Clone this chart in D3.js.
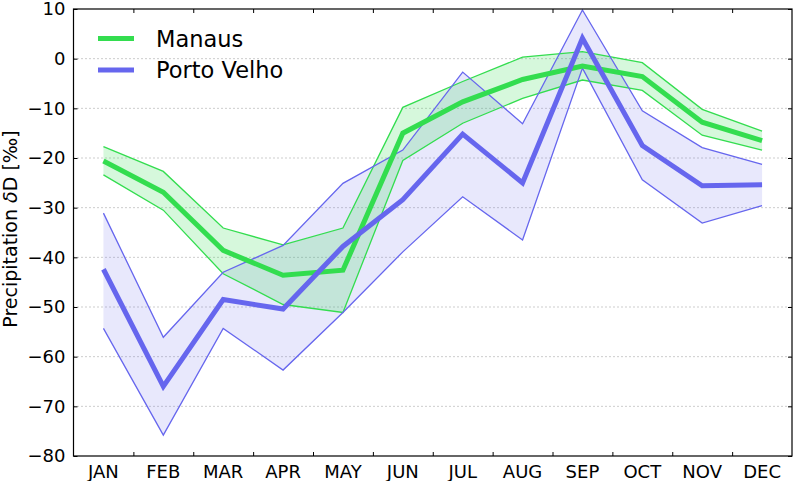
<!DOCTYPE html>
<html>
<head>
<meta charset="utf-8">
<script src="https://cdn.jsdelivr.net/npm/d3@7"></script>
<style>
  html, body { margin: 0; padding: 0; background: #fff; }
  svg { display: block; font-family: "DejaVu Sans", sans-serif; }
</style>
</head>
<body>
<svg id="chart" width="796" height="481"></svg>
<script>
const months = ["JAN","FEB","MAR","APR","MAY","JUN","JUL","AUG","SEP","OCT","NOV","DEC"];
const manausMean  = [-20.6, -26.9, -38.6, -43.6, -42.6, -15.0, -8.7, -4.2, -1.5, -3.6, -12.8, -16.5];
const manausUpper = [-17.7, -22.7, -34.1, -37.5, -34.1, -9.8, -4.6, 0.3, 1.4, -0.8, -10.2, -14.6];
const manausLower = [-23.4, -30.5, -43.3, -49.5, -51.1, -20.5, -13.0, -8.0, -4.3, -6.4, -15.4, -18.4];
const pvMean  = [-42.4, -66.0, -48.5, -50.4, -37.8, -28.4, -15.2, -25.0, 4.1, -17.5, -25.6, -25.4];
const pvUpper = [-31.1, -56.1, -43.0, -37.6, -25.1, -18.4, -2.7, -13.1, 9.8, -10.5, -17.9, -21.3];
const pvLower = [-54.3, -75.8, -54.3, -62.7, -51.1, -38.9, -27.8, -36.5, -1.9, -24.4, -33.1, -29.6];
const yTicks = [10, 0, -10, -20, -30, -40, -50, -60, -70, -80];
const gridVals = [0, -10, -20, -30, -40, -50, -60, -70];
const seriesNames = ["Manaus", "Porto Velho"];

const svg = d3.select("#chart");
const L = 73.5, R = 792, T = 9, B = 456;

const x = d3.scaleLinear().domain([0, 12]).range([L, R]);
const y = d3.scaleLinear().domain([-80, 10]).range([B, T]);
const xm = i => x(i + 0.5);

const green = "#33dd4f", greenFill = "rgba(51,221,79,0.2)";
const blue = "#6666ee", blueFill = "rgba(102,102,238,0.15)";

// gridlines
svg.append("g").selectAll("line").data(gridVals).join("line")
  .attr("x1", L).attr("x2", R)
  .attr("y1", d => y(d)).attr("y2", d => y(d))
  .attr("stroke", "#9a9a9a").attr("stroke-width", 1)
  .attr("stroke-dasharray", "1,3");

const area = (lo, hi) => d3.area()
  .x((d, i) => xm(i)).y0((d, i) => y(lo[i])).y1((d, i) => y(hi[i]));
const line = d3.line().x((d, i) => xm(i)).y(d => y(d));

svg.append("path").datum(pvMean).attr("d", area(pvLower, pvUpper))
  .attr("fill", blueFill).attr("stroke", "none");
svg.append("path").datum(manausMean).attr("d", area(manausLower, manausUpper))
  .attr("fill", greenFill).attr("stroke", "none");

const edge = (arr, c) => svg.append("path").datum(arr).attr("d", line)
  .attr("fill", "none").attr("stroke", c).attr("stroke-width", 1.3);
edge(manausUpper, green); edge(manausLower, green);
edge(pvUpper, blue); edge(pvLower, blue);

const mainLine = (arr, c) => svg.append("path").datum(arr).attr("d", line)
  .attr("fill", "none").attr("stroke", c).attr("stroke-width", 5)
  .attr("stroke-linejoin", "miter");
mainLine(manausMean, green);
mainLine(pvMean, blue);

// frame
svg.append("rect").attr("x", L).attr("y", T).attr("width", R - L).attr("height", B - T)
  .attr("fill", "none").attr("stroke", "#000").attr("stroke-width", 1.2);

const xTickVals = d3.range(1, 12);
svg.append("g").attr("transform", `translate(0,${B})`)
  .call(d3.axisBottom(x).tickValues(xTickVals).tickSize(-4).tickFormat(""))
  .call(g => g.select(".domain").remove());
svg.append("g").attr("transform", `translate(0,${T})`)
  .call(d3.axisTop(x).tickValues(xTickVals).tickSize(-4).tickFormat(""))
  .call(g => g.select(".domain").remove());
svg.append("g").attr("transform", `translate(${L},0)`)
  .call(d3.axisLeft(y).tickValues(yTicks).tickSize(-4).tickPadding(8)
    .tickFormat(d => d < 0 ? "\u2212" + Math.abs(d) : String(d)))
  .call(g => g.select(".domain").remove())
  .call(g => g.selectAll("text").attr("font-size", 18).attr("font-family", "DejaVu Sans").attr("fill", "#000"));
svg.append("g").attr("transform", `translate(${R},0)`)
  .call(d3.axisRight(y).tickValues(yTicks).tickSize(-4).tickFormat(""))
  .call(g => g.select(".domain").remove());

svg.append("g").selectAll("text").data(months).join("text")
  .attr("x", (d, i) => xm(i)).attr("y", 477.5)
  .attr("text-anchor", "middle").attr("font-size", 18).attr("fill", "#000")
  .text(d => d);

// y label
const yl = svg.append("text")
  .attr("transform", `translate(17,229) rotate(-90)`)
  .attr("text-anchor", "middle").attr("font-size", 19).attr("fill", "#000");
yl.append("tspan").text("Precipitation ");
yl.append("tspan").attr("font-style", "italic").text("\u03b4");
yl.append("tspan").text("D [\u2030]");

// legend
const legColors = [green, blue];
const leg = svg.append("g");
seriesNames.forEach((n, i) => {
  const ly = 38.5 + i * 31.5;
  leg.append("line").attr("x1", 98).attr("x2", 134).attr("y1", ly).attr("y2", ly)
    .attr("stroke", legColors[i]).attr("stroke-width", 5);
  leg.append("text").attr("x", 156).attr("y", ly + 8)
    .attr("font-size", 22.5).attr("fill", "#000").text(n);
});
</script>
</body>
</html>
